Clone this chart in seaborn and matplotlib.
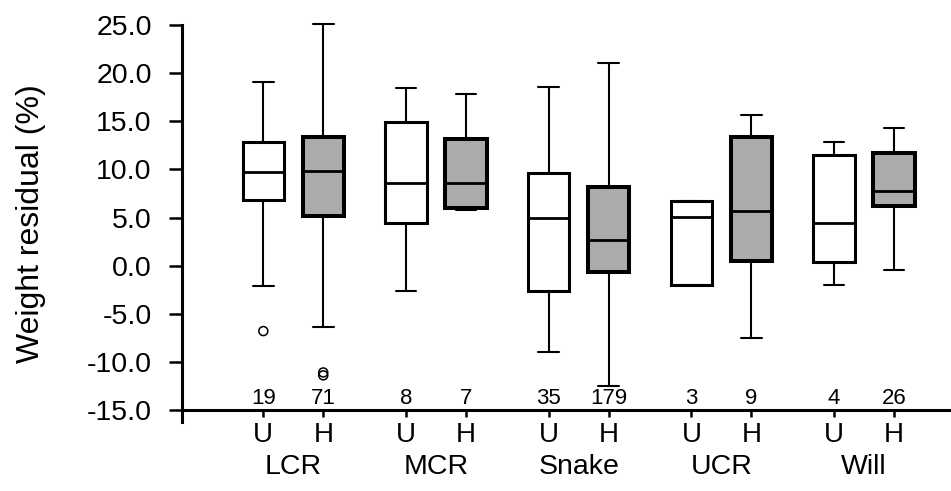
import numpy as np
import pandas as pd
import matplotlib
matplotlib.use("Agg")
import matplotlib.pyplot as plt
import matplotlib.transforms as mtransforms
import seaborn as sns

# Sites and treatment groups
sites = ["LCR", "MCR", "Snake", "UCR", "Will"]
treatments = ["U", "H"]

# Five-number summaries per site (whisker low, Q1, median, Q3, whisker high)
whisker_low_U = [-2.1, -2.6, -9.0, -2.0, -2.0]
q1_U = [6.8, 4.4, -2.6, -2.0, 0.4]
median_U = [9.7, 8.6, 5.0, 5.1, 4.4]
q3_U = [12.8, 14.9, 9.6, 6.7, 11.5]
whisker_high_U = [19.1, 18.5, 18.6, 6.7, 12.8]

whisker_low_H = [-6.4, 5.8, -12.5, -7.5, -0.5]
q1_H = [5.2, 6.0, -0.7, 0.5, 6.2]
median_H = [9.8, 8.6, 2.7, 5.7, 7.8]
q3_H = [13.4, 13.2, 8.2, 13.4, 11.7]
whisker_high_H = [25.1, 17.8, 21.1, 15.7, 14.3]

# Sample sizes
n_U = [19, 8, 35, 3, 4]
n_H = [71, 7, 179, 9, 26]

# Outlying observations
outlier_site = ["LCR", "LCR", "LCR"]
outlier_treatment = ["U", "H", "H"]
outlier_value = [-6.8, -11.1, -11.4]

y_ticks = [-15.0, -10.0, -5.0, 0.0, 5.0, 10.0, 15.0, 20.0, 25.0]

summary = {
    "U": [whisker_low_U, q1_U, median_U, q3_U, whisker_high_U],
    "H": [whisker_low_H, q1_H, median_H, q3_H, whisker_high_H],
}
rows = []
for t in treatments:
    for i, s in enumerate(sites):
        for stat in summary[t]:
            rows.append({"site": s, "treatment": t, "value": stat[i]})
df = pd.DataFrame(rows)

sns.set_theme(style="ticks")
plt.rcParams["font.family"] = ["Liberation Sans", "DejaVu Sans"]
plt.rcParams["axes.unicode_minus"] = False

fig = plt.figure(figsize=(9.51, 4.91), dpi=100)
ax = fig.add_axes([0.1909, 0.165, 0.807, 0.784])

GRAY = "#ababab"
box_width = 0.84
sns.boxplot(
    data=df, x="site", y="value", hue="treatment",
    order=sites, hue_order=treatments,
    palette={"U": "white", "H": GRAY},
    width=box_width, gap=0.31, whis=(0, 100), showfliers=False,
    linecolor="black", linewidth=2.2,
    whiskerprops={"linewidth": 1.5},
    capprops={"linewidth": 1.5},
    medianprops={"linewidth": 2.0, "color": "black"},
    legend=False, ax=ax,
)

# Thicker outlines on the shaded boxes; let whiskers reach past the limits
for p in ax.patches:
    fc = p.get_facecolor()
    if fc[0] < 0.9:
        p.set_linewidth(2.9)
    p.set_clip_on(False)
for ln in ax.lines:
    ln.set_clip_on(False)

offset = box_width / 4
offsets = {"U": -offset, "H": offset}

# Outliers
ox = [sites.index(s) + offsets[t] for s, t in zip(outlier_site, outlier_treatment)]
ax.scatter(ox, outlier_value, s=42, marker="o", facecolors="none",
           edgecolors="black", linewidths=1.1, zorder=4, clip_on=False)

# Sample-size annotations
positions = []
labels = []
for i, s in enumerate(sites):
    for t, n in (("U", n_U[i]), ("H", n_H[i])):
        x = i + offsets[t]
        positions.append(x)
        labels.append(t)
        ax.text(x, -14.4, str(n), ha="center", va="baseline", fontsize=16,
                color="black")

# Site names below the treatment labels
trans = mtransforms.blended_transform_factory(ax.transData, ax.transAxes)
for i, s in enumerate(sites):
    ax.text(i, -0.147, s, transform=trans, ha="center", va="center",
            fontsize=20.5, color="black")

ax.set_xlim(-0.783, 4.595)
ax.set_ylim(-15, 25)
ax.set_xticks(positions)
ax.set_xticklabels(labels)
ax.set_yticks(y_ticks)
ax.set_yticklabels([f"{v:.1f}" for v in y_ticks])
ax.set_xlabel("")
ax.set_ylabel("Weight residual (%)", fontsize=23, color="black")
ax.yaxis.set_label_coords(-0.196, 0.483)
ax.yaxis.label.set_verticalalignment("center")

ax.tick_params(axis="y", length=9.5, width=1.8, pad=12, labelsize=20.5,
               colors="black")
ax.tick_params(axis="x", length=5, width=1.8, pad=4, labelsize=20,
               colors="black")

sns.despine(ax=ax)
for side in ("left", "bottom"):
    ax.spines[side].set_linewidth(2.2)
    ax.spines[side].set_color("black")
ax.spines["left"].set_bounds(-16.2, 25)
ax.spines["left"].set_clip_on(False)

fig.savefig("out.png", dpi=100)
